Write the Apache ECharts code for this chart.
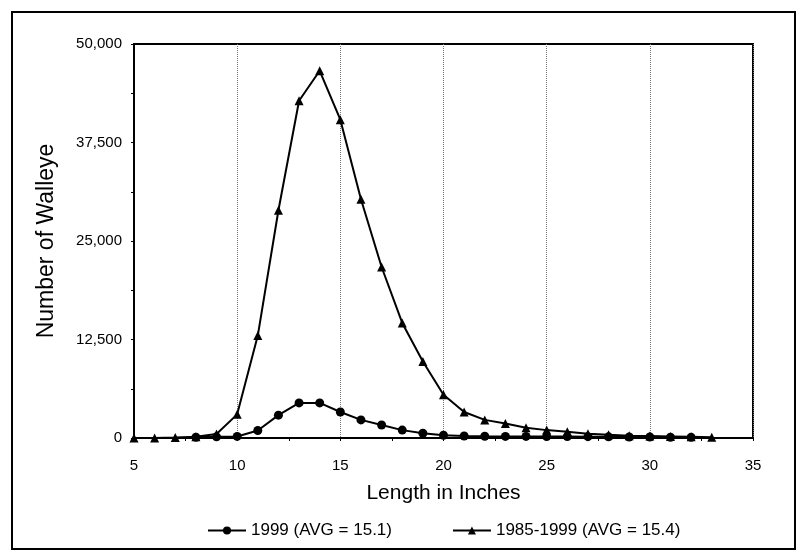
<!DOCTYPE html>
<html>
<head>
<meta charset="utf-8">
<script src="https://cdn.jsdelivr.net/npm/echarts@6/dist/echarts.min.js"></script>
<style>html,body{margin:0;padding:0;background:#fff}#c{width:798px;height:554px}</style>
</head>
<body>
<div id="c"></div>
<script>
// Lengths (inches) and counts
const lengthsAll = [5,6,7,8,9,10,11,12,13,14,15,16,17,18,19,20,21,22,23,24,25,26,27,28,29,30,31,32,33];
const countsAll  = [0,0,50,150,500,3000,13000,28900,42800,46600,40400,30300,21700,14600,9700,5500,3300,2300,1850,1300,1000,800,550,400,300,250,200,150,100];
const lengths1999 = [8,9,10,11,12,13,14,15,16,17,18,19,20,21,22,23,24,25,26,27,28,29,30,31,32];
const counts1999  = [100,150,200,950,2900,4450,4450,3300,2300,1650,1000,600,350,250,220,200,200,190,180,170,150,130,120,100,80];
const seriesNames = ['1999 (AVG = 15.1)', '1985-1999 (AVG = 15.4)'];
const xTitle = 'Length in Inches';
const yTitle = 'Number of Walleye';

const pairs = (xs, ys) => xs.map((x, i) => [x, ys[i]]);
const font = 'Liberation Sans, Arial, sans-serif';

const chart = echarts.init(document.getElementById('c'), null, {renderer: 'canvas'});
chart.setOption({
  animation: false,
  backgroundColor: '#fff',
  graphic: [{
    type: 'rect', shape: {x: 12, y: 12, width: 783, height: 537},
    style: {fill: 'none', stroke: '#000', lineWidth: 2}, silent: true
  }],
  grid: {left: 134, right: 45, top: 44, bottom: 116, show: true, borderColor: '#000', borderWidth: 2, backgroundColor: 'transparent'},
  legend: {
    left: 202, top: 517, itemWidth: 38, itemHeight: 10, itemGap: 60,
    textStyle: {fontFamily: font, fontSize: 17, color: '#000'},
    data: seriesNames
  },
  xAxis: {
    type: 'value', min: 5, max: 35, interval: 5,
    name: xTitle, nameLocation: 'middle', nameGap: 45,
    nameTextStyle: {fontFamily: font, fontSize: 21, color: '#000'},
    axisLine: {show: true, onZero: false, lineStyle: {color: '#000', width: 2}},
    axisTick: {show: true, length: 3, lineStyle: {color: '#000'}},
    minorTick: {show: true, splitNumber: 2, length: 3, lineStyle: {color: '#000'}},
    axisLabel: {fontFamily: font, fontSize: 15, color: '#000', margin: 20},
    splitLine: {show: true, lineStyle: {color: '#777', width: 1, type: [1, 1]}}
  },
  yAxis: {
    type: 'value', min: 0, max: 50000, interval: 12500,
    name: yTitle, nameLocation: 'middle', nameGap: 76, nameRotate: 90,
    nameTextStyle: {fontFamily: font, fontSize: 23, color: '#000'},
    axisLine: {show: true, lineStyle: {color: '#000', width: 2}},
    axisTick: {show: true, length: 3, lineStyle: {color: '#000'}},
    minorTick: {show: true, splitNumber: 2, length: 3, lineStyle: {color: '#000'}},
    axisLabel: {fontFamily: font, fontSize: 15, color: '#000', margin: 12,
      formatter: v => v.toLocaleString('en-US')},
    splitLine: {show: false}
  },
  series: [
    {
      name: seriesNames[0], type: 'line', data: pairs(lengths1999, counts1999),
      symbol: 'circle', symbolSize: 9, showAllSymbol: true,
      lineStyle: {color: '#000', width: 2}, itemStyle: {color: '#000'}, z: 3
    },
    {
      name: seriesNames[1], type: 'line', data: pairs(lengthsAll, countsAll),
      symbol: 'triangle', symbolSize: 9, showAllSymbol: true,
      lineStyle: {color: '#000', width: 2}, itemStyle: {color: '#000'}, z: 4
    }
  ]
});
</script>
</body>
</html>
